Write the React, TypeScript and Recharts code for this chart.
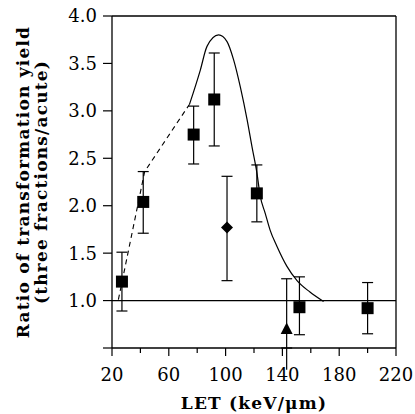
import React from 'react';
import {
  ComposedChart,
  XAxis,
  YAxis,
  Line,
  Scatter,
  ErrorBar,
  ReferenceLine,
} from 'recharts';

// squares: three fractions / acute, with error bars
const SQ_LET = [27, 42, 77.5, 92, 122, 152, 200];
const SQ_RATIO = [1.2, 2.04, 2.75, 3.12, 2.13, 0.93, 0.92];
const SQ_LOW = [0.89, 1.71, 2.44, 2.63, 1.83, 0.64, 0.65];
const SQ_HIGH = [1.51, 2.36, 3.05, 3.61, 2.43, 1.25, 1.19];

// diamond
const DM_LET = [101];
const DM_RATIO = [1.77];
const DM_LOW = [1.21];
const DM_HIGH = [2.31];

// triangle (its lower bar runs below the axis)
const TR_LET = [143];
const TR_RATIO = [0.7];
const TR_LOW = [0.27];
const TR_HIGH = [1.23];

// solid fitted curve
const CURVE_LET = [74.6, 82.2, 86.9, 95.1, 101, 105.6, 110.4, 115.1, 118.6, 122.1, 124.4, 127.9, 131.4, 136.2, 143.2, 150.3, 159.4, 169];
const CURVE_RATIO = [3.07, 3.43, 3.68, 3.8, 3.73, 3.54, 3.25, 2.91, 2.62, 2.34, 2.1, 1.92, 1.74, 1.57, 1.36, 1.21, 1.09, 0.99];

// dashed extension at low LET
const DASH_LET = [24.5, 43, 74.6];
const DASH_RATIO = [1.01, 2.36, 3.07];

const X_TICKS = [20, 40, 60, 80, 100, 120, 140, 160, 180, 200, 220];
const Y_TICKS = [0.5, 1, 1.5, 2, 2.5, 3, 3.5, 4];
const Y_MIN = 0.5;

const FONT = '"DejaVu Serif", serif';

const withErr = (xs: number[], ys: number[], lo: number[], hi: number[]) =>
  xs.map((x, i) => ({ x, y: ys[i], err: [ys[i] - Math.max(lo[i], Y_MIN), hi[i] - ys[i]] }));

const squares = withErr(SQ_LET, SQ_RATIO, SQ_LOW, SQ_HIGH);
const diamonds = withErr(DM_LET, DM_RATIO, DM_LOW, DM_HIGH);
const triangles = withErr(TR_LET, TR_RATIO, TR_LOW, TR_HIGH);
const curve = CURVE_LET.map((x, i) => ({ x, y: CURVE_RATIO[i] }));
const dashed = DASH_LET.map((x, i) => ({ x, y: DASH_RATIO[i] }));

const Square = (p: any) => <rect x={p.cx - 6} y={p.cy - 6} width={12} height={12} fill="#000" />;
const Diamond = (p: any) => (
  <path d={`M${p.cx},${p.cy - 6}L${p.cx + 6},${p.cy}L${p.cx},${p.cy + 6}L${p.cx - 6},${p.cy}Z`} fill="#000" />
);
const Triangle = (p: any) => (
  <path d={`M${p.cx},${p.cy - 6.5}L${p.cx + 6},${p.cy + 5}L${p.cx - 6},${p.cy + 5}Z`} fill="#000" />
);

const XTick = ({ x, y, payload }: any) => {
  const major = (payload.value - 20) % 40 === 0;
  return (
    <g>
      <line x1={x} x2={x} y1={y} y2={y + (major ? 8 : 5)} stroke="#000" strokeWidth={1.2} />
      {major && (
        <text x={x} y={y + 33} textAnchor="middle" fontFamily={FONT} fontSize={18} fill="#000">
          {payload.value}
        </text>
      )}
    </g>
  );
};

const YTick = ({ x, y, payload }: any) => (
  <g>
    <line x1={x - 9} x2={x} y1={y} y2={y} stroke="#000" strokeWidth={1.2} />
    {payload.value !== Y_MIN && (
      <text x={x - 15} y={y} dy="0.36em" textAnchor="end" fontFamily={FONT} fontSize={18} fill="#000">
        {payload.value.toFixed(1)}
      </text>
    )}
  </g>
);

const YLabel = ({ viewBox }: any) => {
  const cy = viewBox.y + viewBox.height / 2;
  return (
    <g fontFamily={FONT} fontSize={17} fontWeight="bold" fill="#000" textAnchor="middle" letterSpacing={1.2}>
      <text transform={`translate(${viewBox.x + 29},${cy}) rotate(-90)`}>Ratio of transformation yield</text>
      <text transform={`translate(${viewBox.x + 47},${cy}) rotate(-90)`}>(three fractions/acute)</text>
    </g>
  );
};

const XLabel = ({ viewBox }: any) => (
  <text
    x={viewBox.x + viewBox.width / 2}
    y={viewBox.y + 61}
    textAnchor="middle"
    fontFamily={FONT}
    fontSize={17}
    fontWeight="bold"
    letterSpacing={1.2}
    fill="#000"
  >
    LET (keV/μm)
  </text>
);

export default function App() {
  return (
    <div style={{ position: 'absolute', left: 0, top: 0 }}>
      <ComposedChart width={415} height={414} margin={{ top: 16, right: 19, bottom: 0, left: 0 }}>
        <XAxis
          type="number"
          dataKey="x"
          domain={[20, 220]}
          ticks={X_TICKS}
          interval={0}
          height={66}
          tickSize={0}
          tickMargin={0}
          tickLine={false}
          tick={<XTick />}
          axisLine={{ stroke: '#000', strokeWidth: 1.3 }}
          label={<XLabel />}
        />
        <YAxis
          type="number"
          dataKey="y"
          domain={[Y_MIN, 4]}
          ticks={Y_TICKS}
          interval={0}
          allowDataOverflow
          width={112}
          tickSize={0}
          tickMargin={0}
          tickLine={false}
          tick={<YTick />}
          axisLine={{ stroke: '#000', strokeWidth: 1.3 }}
          label={<YLabel />}
        />
        <ReferenceLine y={4} stroke="#000" strokeWidth={1.3} />
        <ReferenceLine x={220} stroke="#000" strokeWidth={1.3} />
        <ReferenceLine y={1} stroke="#000" strokeWidth={1.3} />
        <Line data={dashed} dataKey="y" type="linear" stroke="#000" strokeWidth={1.1} strokeDasharray="5 4" dot={false} isAnimationActive={false} />
        <Line data={curve} dataKey="y" type="monotone" stroke="#000" strokeWidth={1.2} dot={false} isAnimationActive={false} />
        <Scatter data={squares} shape={<Square />} isAnimationActive={false}>
          <ErrorBar dataKey="err" direction="y" width={5.5} stroke="#000" strokeWidth={1.2} />
        </Scatter>
        <Scatter data={diamonds} shape={<Diamond />} isAnimationActive={false}>
          <ErrorBar dataKey="err" direction="y" width={5.5} stroke="#000" strokeWidth={1.2} />
        </Scatter>
        <Scatter data={triangles} shape={<Triangle />} isAnimationActive={false}>
          <ErrorBar dataKey="err" direction="y" width={5.5} stroke="#000" strokeWidth={1.2} />
        </Scatter>
        <ReferenceLine
          segment={[{ x: TR_LET[0], y: Y_MIN }, { x: TR_LET[0], y: TR_LOW[0] }]}
          ifOverflow="visible"
          stroke="#000"
          strokeWidth={1.2}
        />
      </ComposedChart>
    </div>
  );
}
